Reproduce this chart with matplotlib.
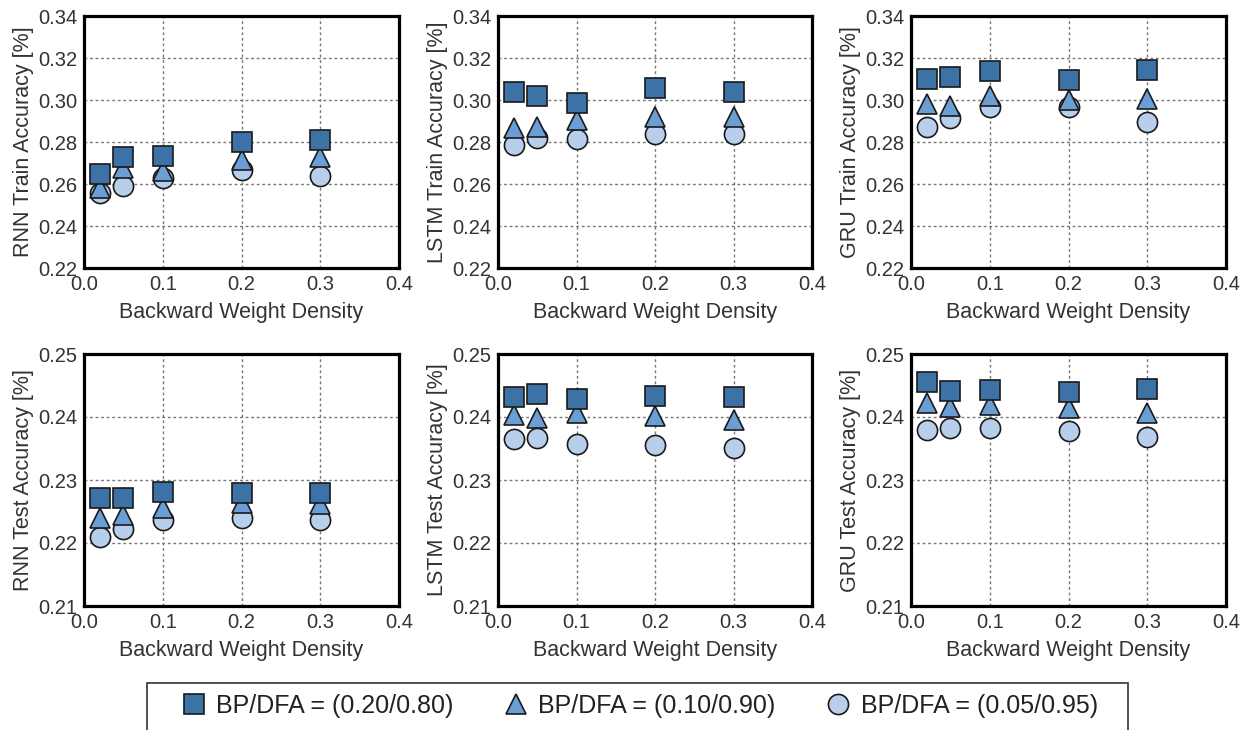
import numpy as np
import matplotlib
matplotlib.use('Agg')
import matplotlib.pyplot as plt
from matplotlib.patches import Rectangle

plt.rcParams['font.family'] = ['Liberation Sans', 'DejaVu Sans']

# Данные
density = [0.02, 0.05, 0.1, 0.2, 0.3]
labels = ['BP/DFA = (0.20/0.80)', 'BP/DFA = (0.10/0.90)', 'BP/DFA = (0.05/0.95)']

rnn_train_20 = [0.265, 0.273, 0.2735, 0.280, 0.281]
rnn_train_10 = [0.258, 0.2675, 0.266, 0.2715, 0.273]
rnn_train_05 = [0.2555, 0.259, 0.263, 0.2665, 0.264]

lstm_train_20 = [0.304, 0.302, 0.2988, 0.3055, 0.304]
lstm_train_10 = [0.2865, 0.2873, 0.2905, 0.292, 0.2917]
lstm_train_05 = [0.2785, 0.2817, 0.2814, 0.2838, 0.2836]

gru_train_20 = [0.310, 0.311, 0.3137, 0.3094, 0.3145]
gru_train_10 = [0.298, 0.297, 0.3018, 0.300, 0.3003]
gru_train_05 = [0.2873, 0.2912, 0.2968, 0.2965, 0.2893]

rnn_test_20 = [0.2271, 0.2272, 0.2281, 0.228, 0.228]
rnn_test_10 = [0.224, 0.2244, 0.2256, 0.2263, 0.2262]
rnn_test_05 = [0.2209, 0.2223, 0.2236, 0.224, 0.2236]

lstm_test_20 = [0.2432, 0.2436, 0.2428, 0.2433, 0.2431]
lstm_test_10 = [0.2403, 0.2399, 0.2406, 0.2401, 0.2395]
lstm_test_05 = [0.2365, 0.2367, 0.2357, 0.2355, 0.2351]

gru_test_20 = [0.2456, 0.2441, 0.2443, 0.244, 0.2444]
gru_test_10 = [0.2422, 0.2416, 0.2419, 0.2414, 0.2407]
gru_test_05 = [0.2379, 0.2382, 0.2382, 0.2377, 0.2369]

panels = [
    ('RNN Train Accuracy [%]', rnn_train_20, rnn_train_10, rnn_train_05),
    ('LSTM Train Accuracy [%]', lstm_train_20, lstm_train_10, lstm_train_05),
    ('GRU Train Accuracy [%]', gru_train_20, gru_train_10, gru_train_05),
    ('RNN Test Accuracy [%]', rnn_test_20, rnn_test_10, rnn_test_05),
    ('LSTM Test Accuracy [%]', lstm_test_20, lstm_test_10, lstm_test_05),
    ('GRU Test Accuracy [%]', gru_test_20, gru_test_10, gru_test_05),
]

colors = ['#3d72a6', '#6a9fd6', '#b8cfeb']
markers = ['s', '^', 'o']
zorders = [5, 4, 3]   # квадраты сверху, круги снизу

W, H = 1248, 730
fig = plt.figure(figsize=(W / 100, H / 100), dpi=100)

# Положения осей в пикселях
lefts = [84, 498, 911]
rights = [399, 812, 1226]
tops = [16, 354]
bottoms = [268, 606]

handles = []
for i, (ylabel, s20, s10, s05) in enumerate(panels):
    row, col = divmod(i, 3)
    l, r = lefts[col], rights[col]
    t, b = tops[row], bottoms[row]
    ax = fig.add_axes([l / W, 1 - b / H, (r - l) / W, (b - t) / H])
    hs = []
    for vals, c, m, z in zip([s20, s10, s05], colors, markers, zorders):
        h, = ax.plot(density, vals, linestyle='none', marker=m, markersize=14.5,
                     markerfacecolor=c, markeredgecolor='#1a1a1a',
                     markeredgewidth=1.2, zorder=z)
        hs.append(h)
    handles = hs
    ax.set_xlim(0.0, 0.4)
    ax.set_xticks([0.0, 0.1, 0.2, 0.3, 0.4])
    ax.set_xticklabels(['0.0', '0.1', '0.2', '0.3', '0.4'])
    if row == 0:
        yt = np.arange(0.22, 0.3401, 0.02)
        ax.set_ylim(0.22, 0.34)
    else:
        yt = np.arange(0.21, 0.2501, 0.01)
        ax.set_ylim(0.21, 0.25)
    ax.set_yticks(yt)
    ax.set_yticklabels(['%.2f' % v for v in yt])
    ax.grid(True, linestyle=(0, (2, 2)), color='#777777', linewidth=1.0)
    ax.set_axisbelow(True)
    for sp in ax.spines.values():
        sp.set_linewidth(2.3)
        sp.set_color('black')
        sp.set_zorder(6)
    ax.tick_params(length=0, labelsize=14.5, colors='#333333', pad=5)
    ax.set_xlabel('Backward Weight Density', fontsize=15.5, color='#333333', labelpad=6)
    ax.set_ylabel(ylabel, fontsize=15.5, color='#333333', labelpad=3)

# Рамка легенды (нижний край обрезан)
fig.patches.append(Rectangle((147 / W, -0.05), (1128 - 147) / W, 0.05 + 1 - 683 / H,
                             transform=fig.transFigure, fill=False,
                             edgecolor='#333333', linewidth=1.2))

leg = fig.legend(handles, labels, loc='center left', ncol=3,
                 bbox_to_anchor=(181 / W, 1 - 706 / H),
                 fontsize=18, frameon=False, borderpad=0.0, borderaxespad=0.0,
                 handlelength=1.0, handletextpad=0.4, columnspacing=2.0)
for txt in leg.get_texts():
    txt.set_color('#222222')

fig.savefig('out.png', dpi=100)
